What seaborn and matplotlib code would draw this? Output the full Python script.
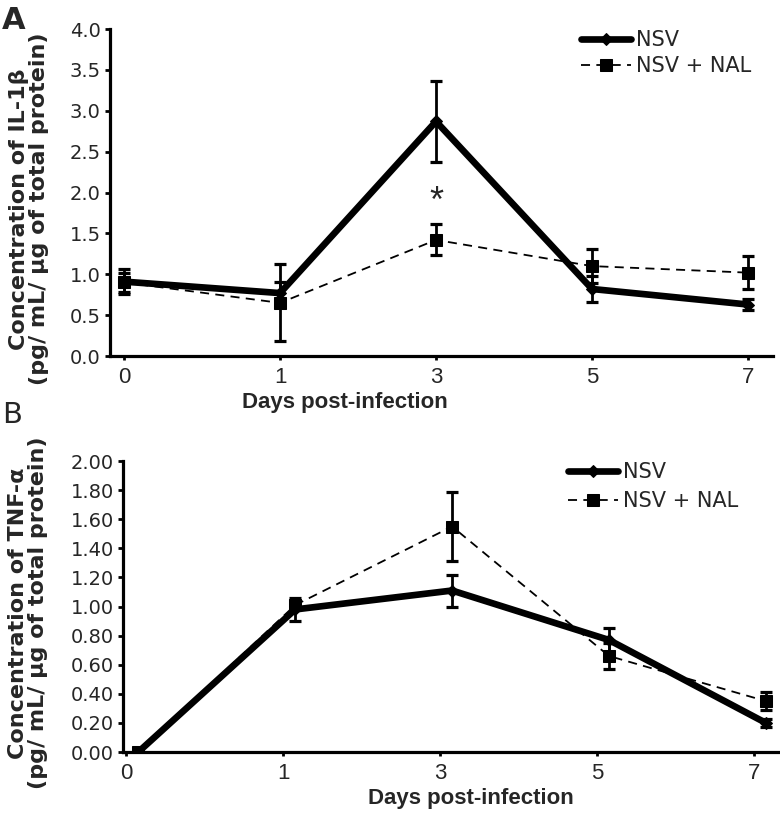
import matplotlib
matplotlib.use("Agg")
import matplotlib.pyplot as plt
import numpy as np
import pandas as pd
import seaborn as sns

# ---------------- data ----------------
days = ["0", "1", "3", "5", "7"]
series_names = ["NSV", "NSV + NAL"]

# panel A : IL-1beta
il1b_nsv = [0.91, 0.77, 2.87, 0.82, 0.63]
il1b_nsv_err = [0.15, 0.13, 0.50, 0.16, 0.07]
il1b_nal = [0.90, 0.65, 1.42, 1.10, 1.02]
il1b_nal_err = [0.12, 0.47, 0.19, 0.21, 0.20]

# panel B : TNF-alpha
tnf_nsv = [0.00, 0.98, 1.11, 0.77, 0.20]
tnf_nsv_err = [0.00, 0.08, 0.11, 0.08, 0.03]
tnf_nal = [0.00, 1.01, 1.55, 0.66, 0.35]
tnf_nal_err = [0.00, 0.03, 0.235, 0.09, 0.06]

sns.set_theme(style="ticks")
plt.rcParams["font.family"] = ["DejaVu Sans"]

fig = plt.figure(figsize=(7.8, 8.16), dpi=100)


def draw_panel(ax, nsv, nsv_err, nal, nal_err, yticks, yfmt, ylabel, tick_shift,
               label_x, label_y):
    pos = np.arange(len(days))
    df = pd.DataFrame({"pos": pos, "nsv": nsv, "nal": nal})

    # dashed NSV + NAL first, thick NSV on top
    sns.lineplot(data=df, x="pos", y="nal", ax=ax, color="black", linewidth=1.3,
                 linestyle=(0, (5, 3.5)), marker="s", markersize=8,
                 markeredgecolor="black", label=series_names[1], zorder=3)
    sns.lineplot(data=df, x="pos", y="nsv", ax=ax, color="black", linewidth=4.8,
                 marker="D", markersize=6, markeredgecolor="black",
                 label=series_names[0], zorder=4)

    for vals, err in [(nsv, nsv_err), (nal, nal_err)]:
        vals = np.array(vals)
        err = np.array(err)
        keep = err > 0
        ax.errorbar(pos[keep], vals[keep], yerr=err[keep], fmt="none",
                    ecolor="black", elinewidth=2, capsize=4.5, capthick=2.3,
                    zorder=5)

    ax.set_yticks(yticks)
    ax.set_yticklabels([yfmt % v for v in yticks], fontsize=14)
    ax.set_ylim(yticks[0], yticks[-1])
    ax.set_xticks(pos + tick_shift)
    ax.set_xticklabels(days, fontsize=16, family=["Liberation Sans Narrow", "Liberation Sans"])

    for side in ["top", "right"]:
        ax.spines[side].set_visible(False)
    for side in ["left", "bottom"]:
        ax.spines[side].set_linewidth(2.3)
        ax.spines[side].set_color("black")
    ax.tick_params(axis="both", direction="out", length=3.8, width=2, color="black",
                   pad=3)
    ax.tick_params(axis="x", length=3, pad=5)

    ax.set_xlabel("Days post-infection", fontsize=16, fontweight="bold",
                  family=["Liberation Sans Narrow", "Liberation Sans"])
    ax.set_ylabel("")
    ax.text(label_x, label_y, ylabel, transform=ax.transAxes,
            rotation=90, ha="center", va="center", fontsize=16, fontweight="bold",
            linespacing=1.0)

    handles, labels = ax.get_legend_handles_labels()
    order = [labels.index(n) for n in series_names]
    return [handles[i] for i in order], [labels[i] for i in order]


# ---------------- panel A ----------------
axA = fig.add_axes([0.141, 0.5637, 0.85, 0.4007])
hA, lA = draw_panel(axA, il1b_nsv, il1b_nsv_err, il1b_nal, il1b_nal_err,
                    np.arange(0, 4.01, 0.5), "%.1f",
                    "Concentration of IL-1β\n(pg/ mL/ μg of total protein)", 0,
                    -0.122, 0.45)
axA.set_xlim(-0.09, 4.16)
axA.xaxis.set_label_coords(0.355, -0.11)
axA.text(2, 1.88, "*", ha="center", va="center", fontsize=26,
         family=["Liberation Sans", "DejaVu Sans"])
axA.legend(hA, lA, loc="upper left", bbox_to_anchor=(581 / 780, 1 - 30 / 816),
           bbox_transform=fig.transFigure, frameon=False, fontsize=15,
           handlelength=2.4, handletextpad=0.25, labelspacing=0.3,
           borderpad=0, borderaxespad=0, numpoints=1)

# ---------------- panel B ----------------
axB = fig.add_axes([0.158, 0.0784, 0.842, 0.3566])
hB, lB = draw_panel(axB, tnf_nsv, tnf_nsv_err, tnf_nal, tnf_nal_err,
                    np.arange(0, 2.001, 0.2), "%.2f",
                    "Concentration of TNF-α\n(pg/ mL/ μg of total protein)", -0.077,
                    -0.145, 0.478)
axB.set_xlim(-0.096, 4.09)
axB.xaxis.set_label_coords(0.53, -0.125)
axB.legend(hB, lB, loc="upper left", bbox_to_anchor=(568 / 780, 1 - 462 / 816),
           bbox_transform=fig.transFigure, frameon=False, fontsize=15,
           handlelength=2.4, handletextpad=0.25, labelspacing=0.45,
           borderpad=0, borderaxespad=0, numpoints=1)

fig.text(0.003, 1 - 29 / 816, "A", fontsize=22, fontweight="bold", va="baseline")
fig.text(0.003, 1 - 423 / 816, "B", fontsize=21, va="baseline")

fig.savefig("out.png", dpi=100)
